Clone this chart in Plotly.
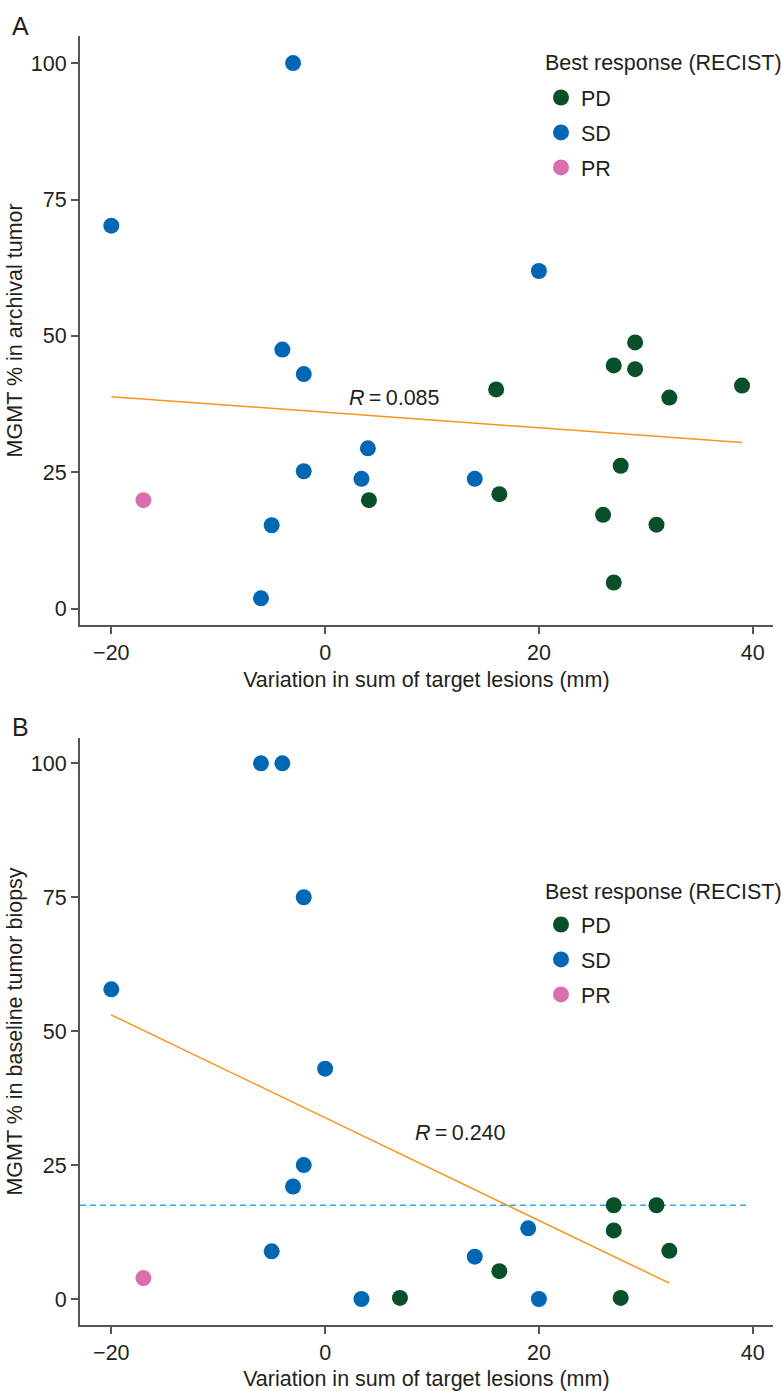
import numpy as np
import plotly.graph_objects as go

# ---------------- Data ----------------
# Panel A: MGMT % in archival tumor
a_pd_x = [4.1, 16.0, 16.3, 27.0, 29.0, 29.0, 32.2, 39.0, 27.65, 26.0, 31.0, 27.0]
a_pd_y = [19.9, 40.2, 21.0, 44.6, 48.8, 43.9, 38.7, 40.9, 26.2, 17.2, 15.4, 4.8]
a_sd_x = [-3.0, -20.0, -4.0, -2.0, 4.0, -2.0, 3.4, -5.0, -6.0, 20.0, 14.0]
a_sd_y = [100.0, 70.2, 47.5, 43.0, 29.4, 25.2, 23.8, 15.3, 1.9, 61.9, 23.8]
a_pr_x = [-17.0]
a_pr_y = [19.9]
a_r_label = "<i>R</i>\u2009=\u20090.085"

# Panel B: MGMT % in baseline tumor biopsy
b_pd_x = [7.0, 16.3, 27.0, 31.0, 27.0, 32.2, 27.65]
b_pd_y = [0.2, 5.2, 17.5, 17.5, 12.8, 9.0, 0.2]
b_sd_x = [-6.0, -4.0, -2.0, -20.0, 0.0, -2.0, -3.0, -5.0, 3.4, 19.0, 14.0, 20.0]
b_sd_y = [100.0, 100.0, 75.0, 57.8, 43.0, 25.0, 21.0, 8.9, 0.0, 13.2, 7.9, 0.0]
b_pr_x = [-17.0]
b_pr_y = [3.9]
b_r_label = "<i>R</i>\u2009=\u20090.240"
b_threshold = 17.5

x_ticks = [-20, 0, 20, 40]
y_ticks = [0, 25, 50, 75, 100]
categories = ["PD", "SD", "PR"]
legend_title = "Best response (RECIST)"
x_title = "Variation in sum of target lesions (mm)"
y_title_a = "MGMT % in archival tumor"
y_title_b = "MGMT % in baseline tumor biopsy"

# ---------------- Styles ----------------
colors = {"PD": "#084f2a", "SD": "#0067b4", "PR": "#da6fae"}
FONT = "Liberation Sans, Arial, Helvetica, sans-serif"
TXT = "#231f20"
AX = "#555555"
FS = 21.5
W, H = 781, 1391

fig = go.Figure()

def add_panel(xs, ys, xaxis, yaxis, legend):
    for cat, x, y in zip(categories, xs, ys):
        fig.add_trace(go.Scatter(
            x=x, y=y, mode="markers", name=cat,
            marker=dict(size=16, color=colors[cat], line=dict(width=0)),
            xaxis=xaxis, yaxis=yaxis, legend=legend,
            legendgroup=legend + cat, showlegend=True,
        ))

def add_fit(all_x, all_y, xaxis, yaxis):
    all_x = np.array(all_x); all_y = np.array(all_y)
    slope, intercept = np.polyfit(all_x, all_y, 1)
    xf = np.array([all_x.min(), all_x.max()])
    fig.add_trace(go.Scatter(
        x=xf, y=slope * xf + intercept, mode="lines",
        line=dict(color="#f7941d", width=1.5),
        xaxis=xaxis, yaxis=yaxis, showlegend=False, hoverinfo="skip",
    ))

# Panel A
add_fit(a_pd_x + a_sd_x + a_pr_x, a_pd_y + a_sd_y + a_pr_y, "x", "y")
add_panel([a_pd_x, a_sd_x, a_pr_x], [a_pd_y, a_sd_y, a_pr_y], "x", "y", "legend")

# Panel B
xr_b = [-22.93, 41.87]
fig.add_trace(go.Scatter(
    x=[xr_b[0], 39.7], y=[b_threshold, b_threshold], mode="lines",
    line=dict(color="#2aaee6", width=1.3, dash="6px,4px"),
    xaxis="x2", yaxis="y2", showlegend=False, hoverinfo="skip",
))
add_fit(b_pd_x + b_sd_x + b_pr_x, b_pd_y + b_sd_y + b_pr_y, "x2", "y2")
add_panel([b_pd_x, b_sd_x, b_pr_x], [b_pd_y, b_sd_y, b_pr_y], "x2", "y2", "legend2")

xdom = [80 / W, 772.7 / W]
ydom_a = [1 - 624.7 / H, 1 - 36 / H]
ydom_b = [1 - 1325.3 / H, 1 - 737.7 / H]

axis_common = dict(
    showline=True, linecolor=AX, linewidth=2, ticks="outside", ticklen=7,
    tickwidth=1.5, tickcolor=AX, showgrid=False, zeroline=False,
    tickfont=dict(family=FONT, size=FS, color=TXT),
)

fig.update_layout(
    width=W, height=H, margin=dict(l=0, r=0, t=0, b=0),
    paper_bgcolor="white", plot_bgcolor="white",
    font=dict(family=FONT, size=FS, color=TXT),
    xaxis=dict(domain=xdom, range=[-22.93, 41.87], tickvals=x_ticks, anchor="y",
               title=dict(text=x_title, standoff=8, font=dict(size=FS)), **axis_common),
    yaxis=dict(domain=ydom_a, range=[-2.93, 104.97], tickvals=y_ticks, anchor="x",
               title=dict(text=y_title_a, standoff=2, font=dict(size=FS)), **axis_common),
    xaxis2=dict(domain=xdom, range=xr_b, tickvals=x_ticks, anchor="y2",
                title=dict(text=x_title, standoff=8, font=dict(size=FS)), **axis_common),
    yaxis2=dict(domain=ydom_b, range=[-4.91, 104.78], tickvals=y_ticks, anchor="x2",
                title=dict(text=y_title_b, standoff=2, font=dict(size=FS)), **axis_common),
    legend=dict(x=541 / W, y=1 - 77 / H, xanchor="left", yanchor="top",
                font=dict(size=FS), tracegroupgap=4, bgcolor="rgba(0,0,0,0)"),
    legend2=dict(x=541 / W, y=1 - 904 / H, xanchor="left", yanchor="top",
                 font=dict(size=FS), tracegroupgap=4, bgcolor="rgba(0,0,0,0)"),
    annotations=[
        dict(text="A", x=10 / W, y=1 - 26 / H, xref="paper", yref="paper",
             xanchor="left", yanchor="middle", showarrow=False, font=dict(size=25)),
        dict(text="B", x=10 / W, y=1 - 727 / H, xref="paper", yref="paper",
             xanchor="left", yanchor="middle", showarrow=False, font=dict(size=25)),
        dict(text=legend_title, x=543 / W, y=1 - 63 / H, xref="paper", yref="paper",
             xanchor="left", yanchor="middle", showarrow=False, font=dict(size=FS)),
        dict(text=legend_title, x=543 / W, y=1 - 891.7 / H, xref="paper", yref="paper",
             xanchor="left", yanchor="middle", showarrow=False, font=dict(size=FS)),
        dict(text=a_r_label, x=2.0, y=38.6, xref="x", yref="y",
             xanchor="left", yanchor="middle", showarrow=False, font=dict(size=FS)),
        dict(text=b_r_label, x=8.25, y=30.9, xref="x2", yref="y2",
             xanchor="left", yanchor="middle", showarrow=False, font=dict(size=FS)),
    ],
)

fig.write_html("out.html", post_script="document.body.style.margin='0';",
               config={"displayModeBar": False})
